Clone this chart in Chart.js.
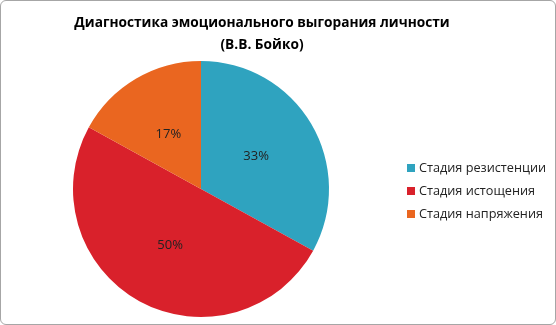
<!DOCTYPE html>
<html><head><meta charset="utf-8">
<script src="https://cdn.jsdelivr.net/npm/chart.js@4/dist/chart.umd.min.js"></script>
<style>
html,body{margin:0;padding:0;background:#fff;}
#wrap{position:relative;width:556px;height:325px;box-sizing:border-box;border:1px solid #A6A6A6;border-radius:6px;}
#c{position:absolute;left:0;top:0;}
#legend{position:absolute;left:406px;top:155px;font-family:"Open Sans",sans-serif;font-size:12.7px;color:#222;}
#legend div{height:23px;line-height:23px;white-space:nowrap;}
#legend span{display:inline-block;width:8px;height:8px;margin-right:4px;vertical-align:0px;}
</style></head>
<body>
<div id="wrap"><canvas id="c" width="556" height="325"></canvas><div id="legend"></div></div>
<script>
const titleLines = ["Диагностика эмоционального выгорания личности", "(В.В. Бойко)"];
const categories = ["Стадия резистенции", "Стадия истощения", "Стадия напряжения"];
const values = [33, 50, 17];
const colors = ["#2FA3BF", "#D9212B", "#EA6620"];

const leg = document.getElementById('legend');
categories.forEach((c,i)=>{
  const d=document.createElement('div');
  const s=document.createElement('span'); s.style.background=colors[i];
  d.appendChild(s); d.appendChild(document.createTextNode(c)); leg.appendChild(d);
});

const titlePlugin = {
  id:'wideTitle',
  afterDraw(chart){
    const ctx=chart.ctx;
    ctx.save();
    ctx.font='bold 13.7px "Open Sans", sans-serif';
    ctx.fillStyle='#000'; ctx.textAlign='center'; ctx.textBaseline='middle';
    titleLines.forEach((t,i)=>ctx.fillText(t, 261, 22+i*22));
    ctx.restore();
  }
};

const labelPlugin = {
  id:'pctLabels',
  afterDatasetsDraw(chart){
    const ctx=chart.ctx; const meta=chart.getDatasetMeta(0);
    const total=values.reduce((a,b)=>a+b,0);
    ctx.save();
    ctx.font='13px "Open Sans", sans-serif';
    ctx.fillStyle='#222'; ctx.textAlign='center'; ctx.textBaseline='middle';
    meta.data.forEach((arc,i)=>{
      const p=arc.getCenterPoint();
      ctx.fillText(Math.round(values[i]/total*100)+'%', p.x, p.y);
    });
    ctx.restore();
  }
};

new Chart(document.getElementById('c'), {
  type:'pie',
  data:{labels:categories, datasets:[{data:values, backgroundColor:colors, borderWidth:0}]},
  options:{
    responsive:false, animation:false,
    layout:{padding:{left:72,right:228,top:60,bottom:9}},
    plugins:{ legend:{display:false}, tooltip:{enabled:false}, title:{display:false} }
  },
  plugins:[labelPlugin, titlePlugin]
});
</script>
</body></html>
